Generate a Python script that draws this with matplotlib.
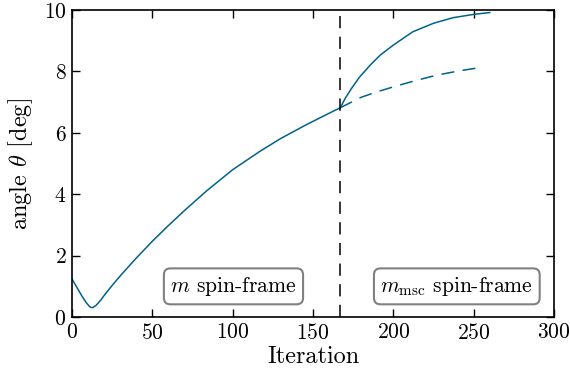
import numpy as np
import matplotlib
matplotlib.use('Agg')
import matplotlib.pyplot as plt

plt.rcParams['font.family'] = 'serif'
plt.rcParams['font.serif'] = ['cmr10']
plt.rcParams['mathtext.fontset'] = 'cm'
plt.rcParams['axes.formatter.use_mathtext'] = True
plt.rcParams['font.size'] = 15.5

# m spin-frame curve
it_m = [0, 3, 6, 9, 11, 12, 13, 15, 18, 21, 25, 31, 40, 50, 60, 70, 84, 100, 117, 130, 146, 157, 167]
ang_m = [1.24, 0.97, 0.70, 0.46, 0.34, 0.31, 0.31, 0.38, 0.56, 0.77, 1.03, 1.40, 1.92, 2.47, 2.98,
         3.47, 4.12, 4.80, 5.40, 5.82, 6.27, 6.56, 6.82]

# m_msc spin-frame (solid) after the switch
it_msc = [167, 170, 174, 179, 186, 192, 200, 212, 225, 237, 250, 260]
ang_msc = [6.82, 7.12, 7.45, 7.82, 8.23, 8.54, 8.86, 9.29, 9.57, 9.75, 9.86, 9.92]

# m spin-frame continued (dashed)
it_cont = [167, 180, 190, 202, 215, 227, 240, 253]
ang_cont = [6.82, 7.16, 7.34, 7.53, 7.72, 7.88, 8.01, 8.12]

switch = 167
col = '#00628b'

fig = plt.figure(figsize=(5.7, 3.73), dpi=100)
ax = fig.add_axes([0.1263, 0.150, 0.8457, 0.823])

ax.plot(it_m, ang_m, color=col, lw=1.1)
ax.plot(it_msc, ang_msc, color=col, lw=1.1)
ax.plot(it_cont, ang_cont, color=col, lw=1.1, ls=(0, (8.5, 5.5)))
ax.axvline(switch, color='black', lw=1.1, ls=(0, (8, 5.5)))

box = dict(boxstyle='round,pad=0.3', fc='white', ec='gray', lw=1.5)
ax.text(100.5, 1.0, r'$m$ spin-frame', ha='center', va='center', bbox=box)
ax.text(239.5, 1.0, r'$m_{\rm msc}$ spin-frame', ha='center', va='center', bbox=box)

ax.set_xlim(0, 300)
ax.set_ylim(0, 10)
ax.set_xticks([0, 50, 100, 150, 200, 250, 300])
ax.set_yticks([0, 2, 4, 6, 8, 10])
ax.tick_params(direction='in', top=True, right=True, length=6, width=1, pad=4)
for s in ax.spines.values():
    s.set_linewidth(1.2)
ax.set_xlabel('Iteration', fontsize=17.5, labelpad=2)
ax.set_ylabel(r'angle $\theta$ [deg]', fontsize=17.5, labelpad=6)

fig.savefig('out.png', dpi=100)
